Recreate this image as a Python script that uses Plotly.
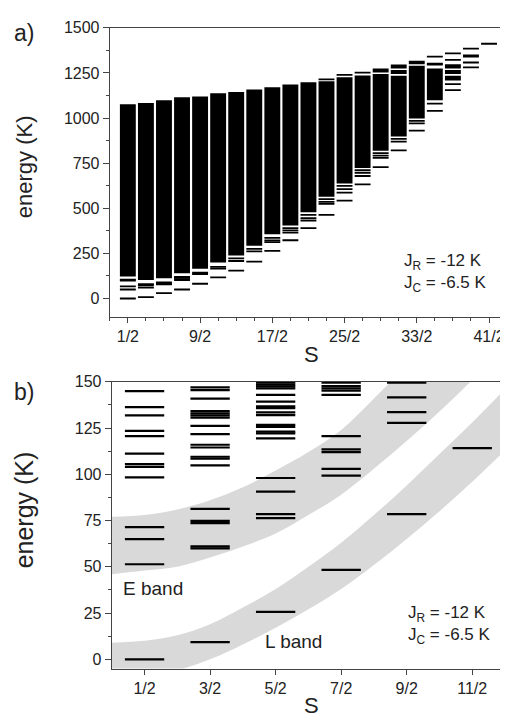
import plotly.graph_objects as go

# page body has an 8px margin: the figure is sized to fill the rest of the 508x717 window
PAGE_W, PAGE_H, OFF = 508, 717, 8
W, H = PAGE_W - OFF, PAGE_H - OFF

# ---------------- Panel a data ----------------
a_S = [0.5, 1.5, 2.5, 3.5, 4.5, 5.5, 6.5, 7.5, 8.5, 9.5, 10.5,
       11.5, 12.5, 13.5, 14.5, 15.5, 16.5, 17.5, 18.5, 19.5, 20.5]
a_tickvals = [0.5, 4.5, 8.5, 12.5, 16.5, 20.5]
a_ticktext = ["1/2", "9/2", "17/2", "25/2", "33/2", "41/2"]

# dense (merged) level blocks [bottom, top] per S
a_blocks = [
    [[122, 1077]],
    [[103, 1084]],
    [[113, 1099]],
    [[140, 1115]],
    [[165, 1120]],
    [[200, 1137]],
    [[238, 1144]],
    [[292, 1158]],
    [[356, 1171]],
    [[405, 1186]],
    [[478, 1199]],
    [[564, 1204]],
    [[637, 1226]],
    [[724, 1236]],
    [[819, 1244], [1253, 1275]],
    [[898, 1235], [1244, 1266], [1275, 1297]],
    [[998, 1290], [1299, 1318]],
    [[1099, 1275]],
    [[1208, 1235], [1244, 1266], [1275, 1299]],
    [],
    [],
]
# isolated levels per S
a_lines = [
    [0, 50, 67, 100, 105],
    [8, 61, 74, 80],
    [30, 78, 84, 90],
    [50, 102, 108, 114, 120],
    [82, 136, 143],
    [117, 166, 175],
    [155, 208, 222],
    [204, 261, 275],
    [264, 312, 322, 336],
    [323, 365, 378, 390],
    [390, 432, 445, 464],
    [464, 524, 536, 551, 1215],
    [542, 587, 606, 624, 1239],
    [633, 679, 697, 712, 1252],
    [728, 779, 792, 806],
    [821, 870, 885],
    [931, 971, 985],
    [1040, 1080, 1297, 1302, 1341],
    [1155, 1188, 1323, 1359],
    [1281, 1308, 1341, 1347, 1385],
    [1412],
]

# ---------------- Panel b data ----------------
b_S = [0.5, 1.5, 2.5, 3.5, 4.5, 5.5]
b_ticktext = ["1/2", "3/2", "5/2", "7/2", "9/2", "11/2"]
b_levels = [
    [0, 51.4, 65, 71.5, 98.4, 104, 105.5, 111.2, 120.6, 123.5, 131.9, 136.3, 145.0],
    [9.3, 60, 61, 73.6, 74.8, 81.3, 104.8, 108.5, 109.5, 114.5, 116, 121.7, 126.2,
     130.6, 131.9, 133, 134.2, 140.9, 145.5, 147],
    [25.6, 76.3, 78.5, 90.6, 98, 119.4, 122.1, 123.1, 125.7, 126.7, 132, 133.5, 135.8,
     136.8, 139.3, 142.9, 146.5, 147.5, 148.5, 149.5],
    [48.4, 99.3, 102.9, 112, 113.5, 120.6, 142.9, 145.2, 146.5, 147.7, 149.6],
    [78.5, 127.8, 133.6, 141.6, 149.6],
    [114.2],
]
# shaded bands (edges read at these S positions)
band_x = [0, 0.5, 1, 1.5, 2, 2.5, 3, 3.5, 4, 4.5, 5, 5.5, 6]
E_band_low = [46, 48, 50, 55, 61, 68, 78, 89, 103, 118, 134, 151, 170]
E_band_high = [77, 78, 81, 86, 93, 102, 112, 124, 141, 159, 179, 200, 223]
L_band_low = [-12, -10, -6, 0, 8, 17, 27, 38, 51, 65, 80, 96, 113]
L_band_high = [9, 10, 13, 19, 28, 38, 50, 63, 78, 94, 111, 128, 146]

# ---------------- build traces ----------------
fig = go.Figure()

bx, bbase, bh = [], [], []
for s, blks in zip(a_S, a_blocks):
    for lo, hi in blks:
        bx.append(s)
        bbase.append(lo)
        bh.append(hi - lo)
fig.add_trace(go.Bar(x=bx, y=bh, base=bbase, width=0.88,
                     marker=dict(color="black", line=dict(width=0)),
                     xaxis="x", yaxis="y", hoverinfo="skip", showlegend=False))

half_a = 0.44
lx, ly = [], []
for s, lev in zip(a_S, a_lines):
    for e in lev:
        lx += [s - half_a, s + half_a, None]
        ly += [e, e, None]
fig.add_trace(go.Scatter(x=lx, y=ly, mode="lines", line=dict(color="black", width=1.8),
                         xaxis="x", yaxis="y", hoverinfo="skip", showlegend=False))

band_col = "#d9d9d9"
for low, high in [(E_band_low, E_band_high), (L_band_low, L_band_high)]:
    fig.add_trace(go.Scatter(x=band_x, y=low, mode="lines",
                             line=dict(width=0, shape="spline", color=band_col),
                             xaxis="x2", yaxis="y2", hoverinfo="skip", showlegend=False))
    fig.add_trace(go.Scatter(x=band_x, y=high, mode="lines", fill="tonexty",
                             fillcolor=band_col,
                             line=dict(width=0, shape="spline", color=band_col),
                             xaxis="x2", yaxis="y2", hoverinfo="skip", showlegend=False))

half_b = 0.3
mx, my = [], []
for s, lev in zip(b_S, b_levels):
    for e in lev:
        mx += [s - half_b, s + half_b, None]
        my += [e, e, None]
fig.add_trace(go.Scatter(x=mx, y=my, mode="lines", line=dict(color="black", width=2.2),
                         xaxis="x2", yaxis="y2", hoverinfo="skip", showlegend=False))

# ---------------- layout ----------------
font_family = "Liberation Sans, Arial, Helvetica, sans-serif"
axcol = "#444"
tickfont = dict(family=font_family, size=16, color="#222")


def px_x(p):
    return (p - OFF) / W


def px_y(p):
    return 1 - (p - OFF) / H


common = dict(showline=True, linecolor=axcol, linewidth=1.2, mirror=True,
              ticks="outside", tickwidth=1.2, tickcolor=axcol,
              showgrid=False, zeroline=False, tickfont=tickfont)
minor_x = dict(ticks="outside", ticklen=3, tickcolor=axcol, tickmode="linear",
               tick0=0.5, dtick=1)

fig.update_layout(
    width=W, height=H, autosize=False,
    margin=dict(l=0, r=0, t=0, b=0),
    paper_bgcolor="white", plot_bgcolor="white",
    barmode="overlay",
    showlegend=False,
    xaxis=dict(domain=[px_x(110), px_x(505)], range=[-0.5, 21.33], anchor="y",
               tickmode="array", tickvals=a_tickvals, ticktext=a_ticktext, ticklen=5,
               minor=minor_x, **common),
    yaxis=dict(domain=[px_y(312), px_y(20)], range=[-100, 1500], anchor="x",
               tickmode="linear", tick0=0, dtick=250, ticklen=6,
               minor=dict(ticks="outside", ticklen=3, tickcolor=axcol, dtick=125, tick0=0),
               **common),
    xaxis2=dict(domain=[px_x(112), px_x(506)], range=[0, 6], anchor="y2",
                tickmode="array", tickvals=b_S, ticktext=b_ticktext, ticklen=5, **common),
    yaxis2=dict(domain=[px_y(668), px_y(378)], range=[-5, 150], anchor="x2",
                tickmode="linear", tick0=0, dtick=25, ticklen=6,
                minor=dict(ticks="outside", ticklen=3, tickcolor=axcol, dtick=12.5, tick0=0),
                **common),
)

txt = "#222"
ann = [
    dict(text="a)", x=px_x(12), y=px_y(25), xanchor="left", yanchor="middle", size=23),
    dict(text="b)", x=px_x(12), y=px_y(388), xanchor="left", yanchor="middle", size=23),
    dict(text="energy (K)", x=px_x(24), y=px_y(160), xanchor="center", yanchor="middle",
         size=22, angle=-90),
    dict(text="energy (K)", x=px_x(24), y=px_y(507), xanchor="center", yanchor="middle",
         size=25, angle=-90),
    dict(text="S", x=px_x(312), y=px_y(350), xanchor="center", yanchor="middle", size=22),
    dict(text="S", x=px_x(312), y=px_y(705), xanchor="center", yanchor="middle", size=22),
    dict(text="J<sub>R</sub> = -12 K<br>J<sub>C</sub> = -6.5 K", x=px_x(403), y=px_y(268),
         xanchor="left", yanchor="middle", size=17),
    dict(text="J<sub>R</sub> = -12 K<br>J<sub>C</sub> = -6.5 K", x=px_x(407), y=px_y(624),
         xanchor="left", yanchor="middle", size=17),
    dict(text="E band", x=px_x(121), y=px_y(587), xanchor="left", yanchor="middle", size=19),
    dict(text="L band", x=px_x(264), y=px_y(641), xanchor="left", yanchor="middle", size=19),
]
for a in ann:
    fig.add_annotation(text=a["text"], x=a["x"], y=a["y"], xref="paper", yref="paper",
                       xanchor=a["xanchor"], yanchor=a["yanchor"], showarrow=False,
                       textangle=a.get("angle", 0), align="left",
                       font=dict(family=font_family, size=a["size"], color=txt))

fig.write_html("out.html")
